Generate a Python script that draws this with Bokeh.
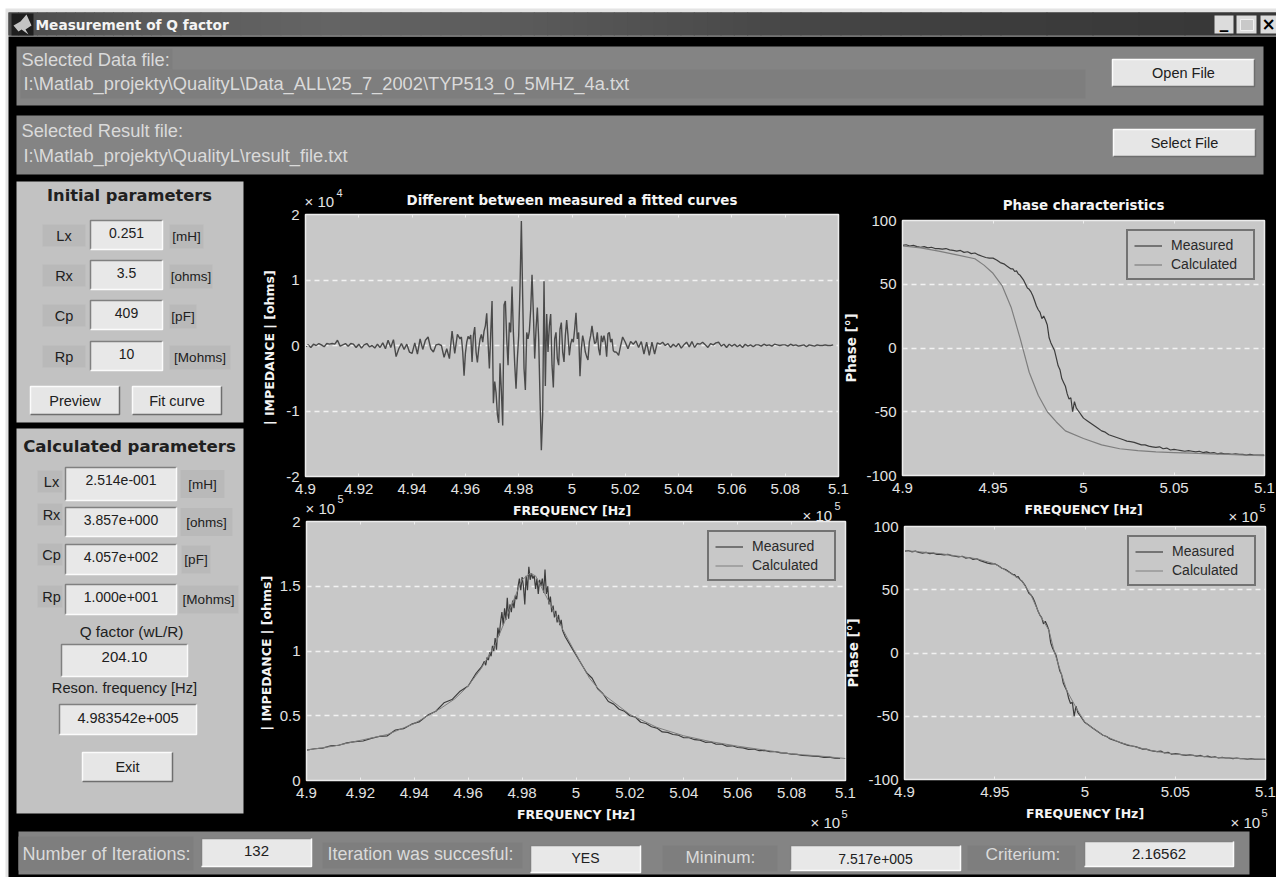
from bokeh.core.properties import value
from bokeh.embed import file_html
from bokeh.models import (FixedTicker, Legend, LegendItem, LinearAxis, NumeralTickFormatter, Range1d)
from bokeh.plotting import figure
from bokeh.resources import INLINE

# ---------------- chart data (x values in units of 1e5 Hz) ----------------
DIFF_FREQ = [
 4.900,4.901,4.902,4.903,4.904,4.905,4.906,4.907,4.908,4.909,4.910,4.911,4.912,4.913,4.914,4.915,4.916,4.917,4.918,4.919,
 4.920,4.921,4.922,4.923,4.924,4.925,4.926,4.927,4.928,4.929,4.930,4.931,4.932,4.933,4.934,4.935,4.936,4.937,4.938,4.939,
 4.940,4.941,4.942,4.943,4.944,4.945,4.946,4.947,4.948,4.949,4.950,4.951,4.952,4.953,4.954,4.955,4.956,4.957,
 4.9580,4.9585,4.9590,4.9595,4.9600,4.9605,4.9610,4.9615,4.9620,4.9625,4.9630,4.9635,4.9640,4.9645,4.9650,4.9655,4.9660,4.9665,4.9670,4.9675,
 4.9680,4.9685,4.9690,4.9695,4.9700,4.9705,4.9710,4.9715,4.9720,4.9725,4.9730,4.9735,4.9740,4.9745,4.9750,4.9755,4.9760,4.9765,4.9770,4.9775,
 4.9780,4.9785,4.9790,4.9795,4.9800,4.9805,4.9810,4.9815,4.9820,4.9825,4.9830,4.9835,4.9840,4.9845,4.9850,4.9855,4.9860,4.9865,4.9870,4.9875,
 4.9880,4.9885,4.9890,4.9895,4.9900,4.9905,4.9910,4.9915,4.9920,4.9925,4.9930,4.9935,4.9940,4.9945,4.9950,4.9955,4.9960,4.9965,4.9970,4.9975,
 4.9980,4.9985,4.9990,4.9995,5.0000,5.0005,5.0010,5.0015,5.0020,5.0025,5.0030,5.0035,5.0040,5.0045,5.0050,5.0055,5.0060,5.0065,5.0070,5.0075,
 5.0080,5.0085,5.0090,5.0095,5.0100,5.0105,5.0110,5.0115,5.0120,5.0125,5.0130,5.0135,5.0140,5.0145,5.0150,5.0155,5.0160,5.0165,5.0170,5.0175,5.0180,
 5.019,5.020,5.021,5.022,5.023,5.024,5.025,5.026,5.027,5.028,5.029,5.030,5.031,5.032,5.033,5.034,5.035,5.036,5.037,5.038,5.039,
 5.040,5.041,5.042,5.043,5.044,5.045,5.046,5.047,5.048,5.049,5.050,5.051,5.052,5.053,5.054,5.055,5.056,5.057,5.058,5.059,
 5.060,5.061,5.062,5.063,5.064,5.065,5.066,5.067,5.068,5.069,5.070,5.071,5.072,5.073,5.074,5.075,5.076,5.077,5.078,5.079,
 5.080,5.081,5.082,5.083,5.084,5.085,5.086,5.087,5.088,5.089,5.090,5.091,5.092,5.093,5.094,5.095,5.096,5.097,5.098]
DIFF_VALUES = [
 -.02,.01,-.03,.02,.00,.03,.01,-.02,.03,.02,.03,.02,.08,-.01,.01,.03,-.01,.03,.02,-.03,
 .02,-.04,.01,.03,-.02,.00,-.04,.02,-.03,.04,-.05,.08,-.03,.09,-.17,-.05,.03,-.06,.02,-.10,
 -.12,.04,-.13,.10,-.06,.08,.13,-.05,-.10,.01,.02,.00,-.18,-.05,-.20,.22,-.12,.17,
 .10,.13,-.10,-.46,-.12,.05,.14,.10,.16,-.25,.15,.28,-.10,-.26,-.05,.10,.17,.05,.22,.30,
 .49,.05,-.35,.18,.68,-.88,-.55,-.72,-1.05,-1.18,-.27,-.70,-1.22,.62,.68,.10,-.30,.35,.20,.90,
 .20,-.28,-.66,-.20,.15,.90,1.90,.73,-.35,-.68,.20,.10,.22,.55,1.08,.50,-.20,.25,.58,.10,
 -.80,-1.60,-1.05,.98,-.62,.48,-.10,.30,.48,-.30,-.64,.10,.20,-.20,-.30,.25,.35,-.10,-.25,.15,
 .39,.15,-.15,.02,.10,.05,.25,.50,.10,.20,-.47,-.05,.15,.05,-.10,-.17,-.22,.05,.15,.30,
 .15,.03,.05,.20,-.05,-.15,.15,.05,.15,.05,-.17,.18,.20,.05,.10,-.08,-.10,-.10,-.12,-.15,-.05,
 .13,.05,-.05,.06,.02,.07,-.03,.06,-.13,.05,-.15,.05,-.13,.04,.02,.05,.00,.03,-.03,.02,-.02,
 .03,-.04,.01,.05,-.02,.06,-.03,.03,.02,.05,.01,-.03,.03,.01,.04,.05,-.01,.02,-.03,.02,
 -.01,.02,-.02,.01,-.03,.02,-.01,.01,-.02,.01,.01,-.01,.02,.00,.01,-.01,.02,.01,.00,.01,
 .01,-.01,.02,.00,.01,-.01,.00,.01,-.02,.01,.00,-.01,.01,.00,.00,.01,.00,.00,.01]

RES_FREQ = [
 4.900,4.903,4.906,4.909,4.912,4.915,4.918,4.921,4.924,4.927,4.930,4.933,4.936,4.939,4.942,4.945,4.948,4.951,4.954,4.957,4.960,4.963,
 4.9650,4.9655,4.9660,4.9665,4.9670,4.9675,4.9680,4.9685,4.9690,4.9695,4.9700,4.9705,4.9710,4.9715,4.9720,4.9725,4.9730,4.9735,4.9740,4.9745,
 4.9750,4.9755,4.9760,4.9765,4.9770,4.9775,4.9780,4.9785,4.9790,4.9795,4.9800,4.9805,4.9810,4.9815,4.9820,4.9825,4.9830,4.9835,4.9840,4.9845,
 4.9850,4.9855,4.9860,4.9865,4.9870,4.9875,4.9880,4.9885,4.9890,4.9895,4.9900,4.9905,4.9910,4.9915,4.9920,4.9925,4.9930,4.9935,4.9940,4.9945,4.9950,
 4.996,4.998,5.000,5.002,5.004,5.006,5.008,5.010,5.012,5.014,5.016,5.018,5.020,5.022,5.024,5.026,5.028,5.030,5.032,5.034,5.036,5.038,5.040,
 5.042,5.044,5.046,5.048,5.050,5.052,5.054,5.056,5.058,5.060,5.062,5.064,5.066,5.068,5.070,5.072,5.074,5.076,5.078,5.080,5.082,5.084,5.086,5.088,5.090,5.092,5.094,5.096,5.098]
RES_MEASURED = [
 .235,.245,.25,.268,.272,.29,.30,.305,.325,.34,.345,.39,.40,.435,.455,.505,.535,.60,.625,.69,.73,.83,
 .88,.90,.92,.89,.95,.93,.99,.96,1.04,1.00,1.10,1.01,1.18,1.12,1.22,1.30,1.20,1.33,1.24,1.41,
 1.25,1.36,1.30,1.39,1.33,1.43,1.40,1.50,1.56,1.47,1.57,1.50,1.36,1.58,1.47,1.65,1.55,1.60,1.56,1.58,
 1.48,1.56,1.44,1.55,1.50,1.56,1.45,1.63,1.44,1.50,1.36,1.42,1.30,1.35,1.26,1.31,1.22,1.28,1.20,1.24,1.16,
 1.11,1.04,.97,.90,.83,.79,.71,.67,.61,.59,.55,.535,.50,.49,.45,.44,.415,.405,.375,.372,.355,.35,.33,
 .33,.315,.312,.295,.298,.28,.283,.265,.268,.255,.252,.24,.243,.23,.232,.222,.223,.213,.212,.203,.202,.193,.192,.188,.186,.178,.18,.173,.17]
RES_CALC_FREQ = [4.900,4.910,4.920,4.930,4.940,4.945,4.950,4.955,4.960,4.965,4.970,4.975,4.980,4.983,4.985,4.990,4.995,
                 5.000,5.005,5.010,5.020,5.030,5.040,5.050,5.060,5.070,5.080,5.090,5.100]
RES_CALC = [.235,.265,.31,.355,.44,.50,.56,.63,.73,.87,1.05,1.30,1.55,1.60,1.58,1.38,1.17,
            .975,.79,.667,.51,.41,.345,.30,.265,.235,.205,.19,.17]

PHASE_FREQ = [
 4.900,4.902,4.904,4.906,4.908,4.910,4.912,4.914,4.916,4.918,4.920,4.922,4.924,4.926,4.928,4.930,4.932,4.934,4.936,4.938,
 4.940,4.942,4.944,4.946,4.948,4.950,4.952,4.954,4.956,4.958,4.960,
 4.961,4.962,4.963,4.964,4.965,4.966,4.967,4.968,4.969,4.970,4.971,4.972,4.973,4.974,4.975,4.976,4.977,4.978,4.979,4.980,
 4.981,4.982,4.983,4.984,4.985,4.986,4.987,4.988,4.989,4.990,4.991,4.992,4.993,4.994,4.995,4.996,4.997,4.998,4.999,
 5.000,5.002,5.004,5.006,5.008,5.010,5.012,5.014,5.016,5.018,5.020,5.022,5.024,5.026,5.028,5.030,5.032,5.034,5.036,5.038,
 5.040,5.042,5.044,5.046,5.048,5.050,5.052,5.054,5.056,5.058,5.060,5.062,5.064,5.066,5.068,5.070,5.072,5.074,5.076,5.078,
 5.080,5.082,5.084,5.086,5.088,5.090,5.092,5.094,5.096,5.098,5.100]
PHASE_MEASURED = [
 80.5,81,80,80.5,79.5,79,79.5,78.5,79,78,78,77.5,78,77,76.5,76,76.5,75,75.5,74,
 74.5,73,72,71,70.5,70.5,69,67,66,64,62,
 62,60,60.5,58,57,55,53,50,47,46,44,41,37,33,30,28,23,25,22,18,
 8,4,1,-2,-8,-14,-17,-24,-27,-30,-36,-40,-39,-50,-42,-47,-49,-51,-53,
 -55,-57,-59,-61,-63,-65,-66,-68,-69,-70,-71,-72,-73,-73.5,-74,-75,-76,-76,-77,-77.5,
 -78,-77.5,-79,-78.5,-80,-79.5,-80,-80.5,-81,-80.5,-81,-81.5,-81,-82,-81.5,-82.5,-82,-83,-82.5,-83,
 -83,-83.5,-83,-83.5,-83.5,-84,-83.5,-84,-84,-84,-84]
PHASE_CALC_FREQ = [4.900,4.910,4.920,4.930,4.940,4.945,4.950,4.955,4.960,4.965,4.967,4.970,4.975,4.980,4.985,4.990,
                   5.000,5.010,5.020,5.030,5.040,5.050,5.060,5.070,5.080,5.090,5.100]
PHASE_CALC = [80,78.5,76,73,70,65,58.6,49,32,7.6,-3,-19,-37,-50,-58,-65,-71,-76,-79,-80.5,-81.5,-82,-82.5,-83,-83.5,-84,-84.5]
FIT_FREQ = [4.900,4.920,4.940,4.950,4.960,4.965,4.970,4.975,4.980,4.983,4.985,4.990,4.995,
            5.000,5.010,5.020,5.030,5.040,5.050,5.060,5.070,5.080,5.090,5.100]
FIT_PHASE = [81,78.5,74.5,70.5,62,57,46,30,18,1,-8,-30,-43,-55,-65,-71,-75,-78,-80,-81,-82.5,-83,-83.7,-84]

TICKS_FINE = [4.9,4.92,4.94,4.96,4.98,5.0,5.02,5.04,5.06,5.08,5.1]
TICKS_COARSE = [4.9,4.95,5.0,5.05,5.1]
TICKS_DIFF = [-2,-1,0,1,2]
TICKS_RES = [0,0.5,1,1.5,2]
TICKS_PHASE = [-100,-50,0,50,100]

SANS = "Liberation Sans"
BOLD = "DejaVu Sans"
TEXT_PANEL = "#dadada"
TEXT_DARK = "#202020"

# ---------------- the window: one figure in screen pixels ----------------
W, H = 1276, 877
bg = figure(width=W, height=H, x_range=Range1d(0, W), y_range=Range1d(H, 0), toolbar_location=None,
            output_backend="svg", min_border=0, background_fill_color="white", border_fill_color="white",
            styles={"position": "absolute", "left": "0px", "top": "0px"})
bg.axis.visible = False
bg.grid.visible = False
bg.outline_line_color = None


def box(x0, y0, x1, y1, color):
    bg.quad(left=[x0], right=[x1], top=[y0], bottom=[y1], fill_color=color, line_color=None)


def write(x, y, s, size=14, color=TEXT_DARK, align="center", font=SANS, style="normal"):
    bg.text(x=[x], y=[y], text=[s], text_font=value(font), text_font_size=f"{size}px", text_color=color,
            text_align=align, text_baseline="middle", text_font_style=style)


def bevel(x0, y0, x1, y1, tl, br, w=1.5):
    bg.line([x0, x0, x1], [y1, y0, y0], line_color=tl, line_width=w)
    bg.line([x0, x1, x1], [y1, y1, y0], line_color=br, line_width=w)


def edit(x0, y0, x1, y1, s, ty=None, size=14):
    box(x0, y0, x1, y1, "#e8e8e8")
    bevel(x0, y0, x1, y1, "#808080", "#fbfbfb")
    write((x0 + x1) / 2, ty if ty is not None else (y0 + y1) / 2 - 1, s, size)


def button(x0, y0, x1, y1, s, size=14.5):
    box(x0, y0, x1, y1, "#e6e6e6")
    bevel(x0, y0, x1, y1, "#fbfbfb", "#6e6e6e")
    write((x0 + x1) / 2, (y0 + y1) / 2, s, size)


def tag(x0, y0, x1, y1, s, size=14, color=TEXT_DARK, fill="#b9b9b9", tx=None):
    box(x0, y0, x1, y1, fill)
    write(tx if tx is not None else (x0 + x1) / 2, (y0 + y1) / 2, s, size, color)


# frame and title bar
box(5, 8, W, H, "#e4e4e4")
box(8, 36, W, H, "#000000")
box(8, 12, W, 35, "#383838")
bar_stops = [(8, 76), (160, 92), (320, 100), (520, 90), (760, 72), (1000, 60), (1276, 54)]
for k in range(len(bar_stops) - 1):
    (xa, ca), (xb, cb) = bar_stops[k], bar_stops[k + 1]
    n = max(1, abs(cb - ca))
    for j in range(n):
        x0 = xa + (xb - xa) * j / n
        x1 = xa + (xb - xa) * (j + 1) / n
        g = round(ca + (cb - ca) * j / n)
        box(x0, 12, x1 + 1, 35, f"#{g:02x}{g:02x}{g:02x}")
box(11, 13, 33, 35, "#1e1e1e")
bg.patch([13, 20, 26, 31, 25, 28, 21, 18], [25, 21, 14, 25, 29, 34, 29, 31], fill_color="#c4c4c4", line_color=None)
write(35, 24, "Measurement of Q factor", 13.7, "#f4f4f4", "left", BOLD, "bold")
for x0, x1, s in [(1214, 1233, "_"), (1236, 1256, ""), (1260, 1276, "×")]:
    box(x0, 15, x1, 33, "#dcdcdc")
    if s:
        write((x0 + x1) / 2, 21 if s == "_" else 23, s, 17, "#000000", font=BOLD, style="bold")
box(1240, 19, 1253, 30, "#c9c9c9")
bg.line([1240, 1253, 1253, 1240, 1240], [19, 19, 30, 30, 19], line_color="#f0f0f0", line_width=1)

# file panels
box(16, 46, 1263, 105, "#848484")
box(20, 69, 1085, 98, "#7e7e7e")
box(20, 48, 172, 69, "#7e7e7e")
write(21, 59, "Selected Data file:", 18.3, TEXT_PANEL, "left")
write(23, 83, "I:\\Matlab_projekty\\QualityL\\Data_ALL\\25_7_2002\\TYP513_0_5MHZ_4a.txt", 18.3, TEXT_PANEL, "left")
button(1112, 59, 1254, 86, "Open File")
box(16, 115, 1263, 174, "#848484")
write(21, 130, "Selected Result file:", 18.3, TEXT_PANEL, "left")
write(23, 155, "I:\\Matlab_projekty\\QualityL\\result_file.txt", 18.3, TEXT_PANEL, "left")
button(1113, 129, 1255, 156, "Select File")

# initial parameters
box(16, 181, 243, 422, "#c2c2c2")
write(129, 195, "Initial parameters", 16.3, TEXT_DARK, font=BOLD, style="bold")
for (lab, val, unit, y0, lx1, ux1) in [("Lx", "0.251", "[mH]", 220, 85, 203), ("Rx", "3.5", "[ohms]", 260, 85, 212),
                                       ("Cp", "409", "[pF]", 300, 85, 196), ("Rp", "10", "[Mohms]", 341, 85, 230)]:
    tag(42, y0 + 4, lx1, y0 + 26, lab, 14.5)
    edit(90, y0, 162, y0 + 29, val, y0 + 12)
    tag(169, y0 + 4, ux1, y0 + 28, unit, 13.5, tx=(169 + ux1) / 2)
button(30, 386, 119, 414, "Preview")
button(132, 386, 221, 414, "Fit curve")

# calculated parameters
box(16, 428, 243, 813, "#c2c2c2")
write(129, 446, "Calculated parameters", 16.6, TEXT_DARK, font=BOLD, style="bold")
for (lab, val, unit, y0, y1, ly, ux0, ux1) in [
        ("Lx", "2.514e-001", "[mH]", 467, 500, 481, 180, 224), ("Rx", "3.857e+000", "[ohms]", 507, 536, 514, 180, 232),
        ("Cp", "4.057e+002", "[pF]", 544, 574, 554, 181, 210), ("Rp", "1.000e+001", "[Mohms]", 584, 614, 596, 178, 238)]:
    box(37, ly - 11, 62, ly + 11, "#b9b9b9")
    write(51, ly, lab, 14.5)
    edit(65, y0, 176, y1, val, y0 + 12)
    tag(ux0, (y0 + y1) / 2 - 14, ux1, (y0 + y1) / 2 + 14, unit, 13.5)
write(131, 631, "Q factor (wL/R)", 15.3)
edit(61, 644, 187, 676, "204.10", 656, 15)
write(124, 687, "Reson. frequency [Hz]", 14.7)
edit(59, 704, 196, 734, "4.983542e+005", 717, 14.5)
button(82, 752, 172, 781, "Exit")

# status bar
box(18, 831, 1249, 874, "#848484")
box(18, 836, 193, 870, "#7e7e7e")
box(322, 842, 522, 868, "#7e7e7e")
box(662, 845, 777, 871, "#7e7e7e")
box(967, 845, 1075, 870, "#7e7e7e")
write(22, 853, "Number of Iterations:", 18, TEXT_PANEL, "left")
edit(201, 838, 311, 866, "132", 850, 15)
write(327, 853, "Iteration was succesful:", 17.9, TEXT_PANEL, "left")
edit(530, 845, 640, 872, "YES", 857)
write(685, 856, "Mininum:", 17.2, TEXT_PANEL, "left")
edit(790, 845, 960, 870, "7.517e+005", 858)
write(985, 853, "Criterium:", 17.3, TEXT_PANEL, "left")
edit(1084, 841, 1233, 866, "2.16562", 853, 15)

# axis multipliers
for x, y, xe, ye in [(304, 201, 336, 192), (802, 515, 834, 505), (1228, 516, 1259, 507),
                     (305, 508, 337, 498), (810, 822, 841, 813), (1230, 822, 1261, 812)]:
    write(x, y, "× 10", 15, "#e4e4e4", "left")
    write(xe, ye, "4" if y == 201 else "5", 11, "#e4e4e4", "left")


# ---------------- the four plots ----------------
def plot(fl, fr, ft, fb, yr, xticks, yticks, title, ylabel, label_off, label_size, title_off=0, yfmt="0.[0]"):
    L, R, T, B = 72, 30, 42, 52
    p = figure(width=round(fr - fl) + L + R, height=round(fb - ft) + T + B, x_range=Range1d(4.9, 5.1), y_range=Range1d(*yr),
               toolbar_location=None, output_backend="svg", min_border_left=L, min_border_right=R, min_border_top=T,
               min_border_bottom=B, background_fill_color="#c8c8c8", border_fill_color=None,
               styles={"position": "absolute", "left": f"{round(fl) - L}px", "top": f"{round(ft) - T}px"},
               x_axis_label="FREQUENCY [Hz]", y_axis_label=ylabel, title=title)
    p.outline_line_color = "#ececec"
    p.outline_line_width = 1.5
    p.xgrid.visible = False
    p.ygrid.ticker = FixedTicker(ticks=yticks)
    p.ygrid.grid_line_color = "#f2f2f2"
    p.ygrid.grid_line_width = 1.5
    p.ygrid.grid_line_dash = "5 4"
    p.xaxis.ticker = FixedTicker(ticks=xticks)
    p.yaxis.ticker = FixedTicker(ticks=yticks)
    p.xaxis.formatter = NumeralTickFormatter(format="0.[00]")
    p.yaxis.formatter = NumeralTickFormatter(format=yfmt)
    for ax in (p.xaxis[0], p.yaxis[0]):
        ax.axis_line_color = "#ececec"
        ax.major_tick_line_color = "#ececec"
        ax.major_tick_in = 3
        ax.major_tick_out = 0
        ax.minor_tick_line_color = None
        ax.major_label_text_color = "#e2e2e2"
        ax.major_label_text_font = SANS
        ax.major_label_text_font_size = "15px"
        ax.axis_label_text_color = "#f4f4f4"
        ax.axis_label_text_font = BOLD
        ax.axis_label_text_font_style = "bold"
    p.xaxis.axis_label_text_font_size = "12.5px"
    p.yaxis.axis_label_text_font_size = label_size
    p.xaxis.major_label_standoff = 7
    p.yaxis.major_label_standoff = 6
    p.xaxis.axis_label_standoff = 6
    p.yaxis.axis_label_standoff = label_off
    top = LinearAxis(ticker=FixedTicker(ticks=xticks), major_label_text_font_size="0px", major_label_text_color=None,
                     axis_line_color=None, major_tick_line_color="#ececec", major_tick_in=3, major_tick_out=0,
                     minor_tick_line_color=None, major_label_standoff=0)
    p.add_layout(top, "above")
    if title:
        p.title.text_color = "#f4f4f4"
        p.title.text_font = BOLD
        p.title.text_font_style = "bold"
        p.title.text_font_size = "13.4px"
        p.title.align = "center"
        p.title.standoff = title_off
    return p


def legend(p, a, b):
    lg = Legend(items=[LegendItem(label="Measured", renderers=[a]), LegendItem(label="Calculated", renderers=[b])],
                location="top_right", margin=9, padding=6, spacing=3, glyph_width=28, glyph_height=15, label_height=15,
                label_standoff=9, label_width=76, background_fill_color="#c8c8c8", background_fill_alpha=1,
                border_line_color="#1e1e1e", border_line_width=2, label_text_font=SANS, label_text_font_size="14px",
                label_text_color="#2a2a2a")
    p.add_layout(lg, "center")


MEAS = "#3c3c3c"
CALC = "#7e7e7e"

p1 = plot(305, 838, 214, 476, (-2, 2), TICKS_FINE, TICKS_DIFF, "Different between measured a fitted curves",
          "| IMPEDANCE |  [ohms]", 6, "12.5px", 14)
p1.line(DIFF_FREQ, DIFF_VALUES, line_color="#4a4a4a", line_width=1.4)

p2 = plot(902, 1264, 220, 475, (-100, 100), TICKS_COARSE, TICKS_PHASE, "Phase characteristics", "Phase [°]", 4, "13.4px", 16)
a = p2.line(PHASE_FREQ, PHASE_MEASURED, line_color=MEAS, line_width=1.2)
b = p2.line(PHASE_CALC_FREQ, PHASE_CALC, line_color=CALC, line_width=1.2)
legend(p2, a, b)

p3 = plot(306, 845, 521, 780, (0, 2), TICKS_FINE, TICKS_RES, "", "| IMPEDANCE |  [ohms]", 3, "12.5px")
a = p3.line(RES_FREQ, RES_MEASURED, line_color=MEAS, line_width=1.2)
b = p3.line(RES_CALC_FREQ, RES_CALC, line_color=CALC, line_width=1)
legend(p3, a, b)

p4 = plot(904, 1265, 526, 779, (-100, 100), TICKS_COARSE, TICKS_PHASE, "", "Phase [°]", 4, "13.4px")
a = p4.line(PHASE_FREQ, PHASE_MEASURED, line_color=MEAS, line_width=1.2)
b = p4.line(FIT_FREQ, FIT_PHASE, line_color=CALC, line_width=1)
legend(p4, a, b)

open("out.html", "w").write(file_html([bg, p1, p2, p3, p4], INLINE))
